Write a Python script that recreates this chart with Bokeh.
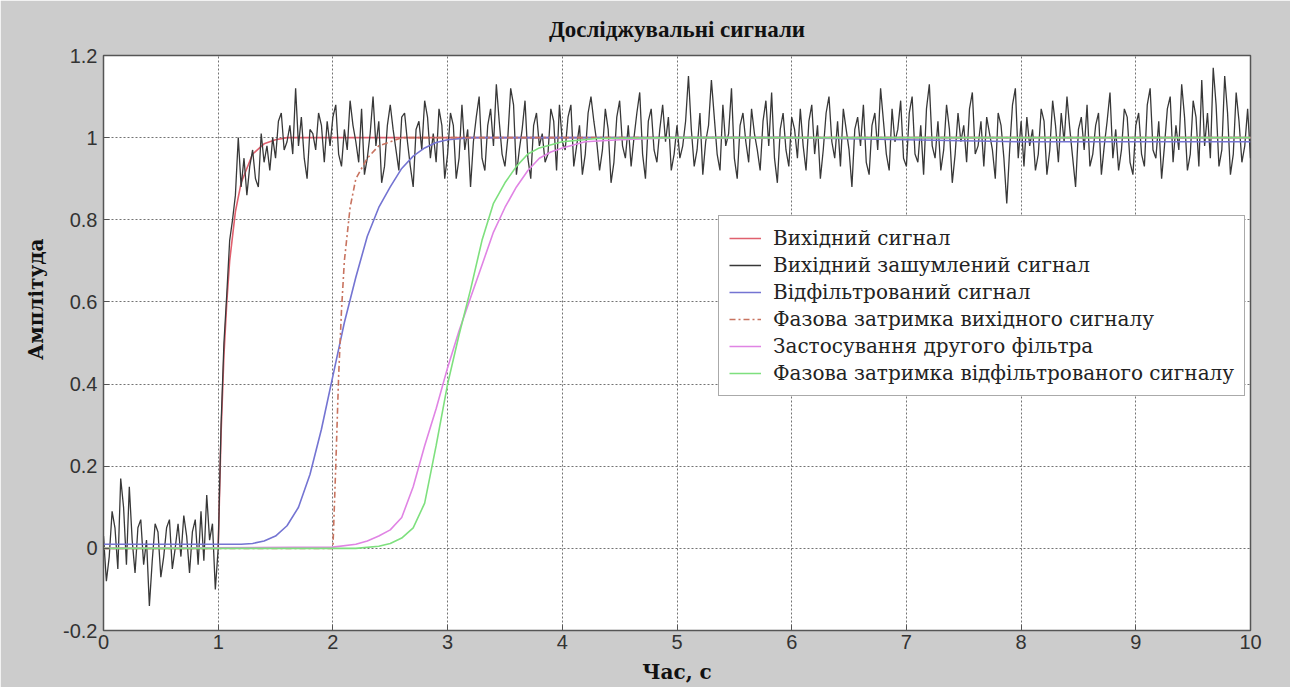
import numpy as np
from bokeh.plotting import figure
from bokeh.models import Range1d, FixedTicker, Legend, LegendItem, NumeralTickFormatter, Title
from bokeh.embed import file_html
from bokeh.resources import INLINE

# ---------------- data ----------------
title_text = "Досліджувальні сигнали"
x_label = "Час, с"
y_label = "Амплітуда"
series_names = [
    "Вихідний сигнал",
    "Вихідний зашумлений сигнал",
    "Відфільтрований сигнал",
    "Фазова затримка вихідного сигналу",
    "Застосування другого фільтра",
    "Фазова затримка відфільтрованого сигналу",
]
x_ticks = [0, 1, 2, 3, 4, 5, 6, 7, 8, 9, 10]
y_ticks = [-0.2, 0, 0.2, 0.4, 0.6, 0.8, 1.0, 1.2]

# input signal
t_in = [0, 1.0, 1.025, 1.05, 1.075, 1.1, 1.15, 1.2, 1.3, 1.4, 1.5, 1.6, 10]
v_in = [0, 0, 0.28, 0.47, 0.6, 0.7, 0.82, 0.89, 0.96, 0.985, 0.995, 1.0, 1.0]

# noisy input signal, sampled every 0.025 s from 0 to 10 s
v_noisy = [
    0.03, -0.08, -0.02, 0.09, 0.05, -0.05, 0.17, 0.1, -0.04, 0.15,
    0.02, -0.06, 0.05, 0.07, -0.04, 0.02, -0.14, -0.03, 0.06, 0.04,
    -0.07, -0.02, 0.05, 0.07, -0.05, 0.0, 0.06, -0.02, 0.08, 0.03,
    -0.06, 0.04, 0.07, -0.04, 0.09, -0.03, 0.13, 0.02, 0.06, -0.1,
    0.0, 0.3, 0.5, 0.62, 0.75, 0.8, 0.86, 1.0, 0.88, 0.95,
    0.86, 0.93, 0.97, 0.9, 0.88, 1.01, 0.94, 0.98, 0.92, 1.0,
    0.95, 1.04, 1.06, 0.97, 0.99, 1.03, 0.96, 1.12, 0.98, 1.05,
    0.95, 0.9, 1.02, 1.01, 0.97, 1.06, 1.03, 0.94, 1.04, 0.98,
    1.05, 1.08, 0.96, 0.93, 1.02, 0.97, 1.09, 1.03, 0.99, 0.94,
    1.07, 0.91, 0.95, 1.01, 1.1, 0.98, 1.04, 0.89, 0.93, 1.03,
    1.08, 1.02, 0.97, 0.92, 1.05, 1.06, 0.99, 0.93, 0.88, 1.02,
    1.04, 0.97, 1.09, 1.05, 0.95, 1.01, 0.94, 1.07, 1.03, 0.9,
    0.96, 1.06, 1.03, 0.9, 0.95, 1.08, 0.97, 1.02, 0.88, 0.99,
    1.05, 1.1, 0.95, 0.92, 1.03, 1.07, 0.98, 1.13, 1.04, 0.96,
    0.93, 1.0, 1.12, 1.08, 0.91, 0.97, 1.02, 1.09, 0.95, 0.9,
    1.03, 1.06, 0.98, 1.01, 0.94, 0.96, 1.07, 1.04, 0.92, 1.08,
    0.99, 0.97, 1.05, 1.08, 0.93, 0.98, 1.03, 0.91, 0.96, 1.06,
    1.1, 1.04, 0.99, 0.92, 0.97, 1.07, 1.02, 0.89, 0.94, 1.05,
    1.09, 0.98, 0.95, 1.03, 0.93, 1.0, 1.06, 1.11, 0.96, 0.9,
    1.04, 1.07, 0.97, 0.94, 1.02, 1.08, 0.99, 1.05, 0.92, 0.96,
    1.03, 0.95, 0.98, 1.04, 1.15, 1.02, 0.93, 0.97, 1.06, 0.91,
    0.99, 1.03, 1.14, 1.05, 0.96, 0.92, 1.08, 0.98, 1.01, 1.12,
    0.95, 0.9, 1.03, 1.06, 0.99, 0.94, 1.07, 1.01, 0.97, 0.92,
    1.04, 1.09, 0.98, 1.11, 0.95, 0.89, 1.02, 1.06, 0.97, 0.93,
    1.05, 1.02, 0.95, 1.07, 0.98, 0.92, 1.04, 1.08, 0.96, 1.03,
    0.9, 0.97, 1.06, 1.1, 0.99, 0.95, 1.04, 0.93, 1.07, 1.02,
    0.97, 0.88, 1.02, 1.05, 0.98, 1.08, 0.94, 0.91, 1.03, 1.06,
    0.97, 1.12, 1.04, 0.96, 0.92, 1.07, 0.99, 1.02, 1.09, 0.95,
    0.93, 1.06, 1.1, 0.96, 0.94, 1.03, 0.91, 1.07, 1.13, 0.98,
    0.95, 1.04, 0.92, 0.97, 1.08, 1.02, 0.89, 0.96, 1.06, 0.99,
    1.03, 0.94, 1.07, 1.11, 0.96, 0.98, 1.04, 0.93, 1.05, 1.01,
    0.97, 0.9, 1.06, 1.03, 0.95, 0.84, 0.97, 1.08, 1.12, 0.95,
    1.04, 0.93, 1.05, 0.98, 1.02, 0.92, 0.96, 1.07, 1.04, 0.91,
    0.97, 1.09, 1.03, 0.94, 1.06, 0.99, 1.1, 1.02, 0.95, 0.88,
    1.02, 1.05, 0.97, 1.08, 0.93, 0.96, 1.03, 1.06, 0.91, 0.98,
    1.04, 1.11, 0.95, 1.02, 0.92, 0.97, 1.07, 1.05, 0.94, 0.91,
    1.03, 1.06, 0.96, 0.93, 1.08, 1.12, 0.97, 0.95, 1.04, 0.9,
    0.98, 1.07, 1.1, 0.94, 1.03, 0.97, 1.13, 1.05, 0.92, 0.96,
    1.09, 1.05, 0.93, 1.14, 0.98, 1.06, 0.95, 1.17, 1.08, 0.93,
    0.97, 1.15, 1.06, 0.91, 0.96, 1.11, 1.04, 0.94, 0.98, 1.07,
    0.95,
]
t_noisy = np.linspace(0, 10, len(v_noisy))

# filtered signal
t_f = [0, 1.2, 1.3, 1.4, 1.5, 1.6, 1.7, 1.8, 1.9, 2.0, 2.1, 2.2, 2.3, 2.4, 2.5, 2.6, 2.7, 2.8, 2.9, 3.0, 3.2, 3.5, 4, 5, 6, 7, 8, 9, 10]
v_f = [0.01, 0.01, 0.012, 0.018, 0.03, 0.055, 0.1, 0.18, 0.29, 0.42, 0.55, 0.66, 0.76, 0.83, 0.88, 0.925, 0.955, 0.975, 0.988, 0.995, 1.0, 1.0, 1.0, 1.0, 1.0, 0.995, 0.99, 0.99, 0.99]

# phase-delayed input signal
t_dl = [0, 2.0, 2.025, 2.05, 2.075, 2.1, 2.15, 2.2, 2.3, 2.4, 2.5, 2.6, 10]
v_dl = [0, 0, 0.2, 0.42, 0.58, 0.7, 0.83, 0.9, 0.95, 0.98, 0.99, 1.0, 1.0]

# second filter
t_m = [0, 2.0, 2.2, 2.3, 2.4, 2.5, 2.6, 2.7, 2.8, 2.9, 3.0, 3.1, 3.2, 3.3, 3.4, 3.5, 3.6, 3.7, 3.8, 3.9, 4.0, 4.2, 4.5, 5, 10]
v_m = [0, 0.003, 0.01, 0.018, 0.03, 0.045, 0.075, 0.15, 0.25, 0.34, 0.44, 0.53, 0.61, 0.69, 0.77, 0.83, 0.88, 0.92, 0.95, 0.965, 0.975, 0.99, 0.995, 1.0, 1.0]

# phase-delayed filtered signal
t_g = [0, 2.2, 2.4, 2.5, 2.6, 2.7, 2.8, 2.9, 3.0, 3.1, 3.2, 3.3, 3.4, 3.5, 3.6, 3.7, 3.8, 4.0, 4.3, 5, 10]
v_g = [0, 0.0, 0.005, 0.012, 0.025, 0.05, 0.11, 0.25, 0.4, 0.52, 0.63, 0.75, 0.84, 0.89, 0.93, 0.96, 0.975, 0.99, 0.998, 1.0, 1.0]

colors = ["#e0606e", "#383838", "#7474d2", "#c8735f", "#e084e4", "#7ee07e"]

# ---------------- figure ----------------
SERIF = "DejaVu Serif"
p = figure(width=1290, height=687, output_backend="svg", toolbar_location=None,
           x_range=Range1d(0, 10), y_range=Range1d(-0.2, 1.2),
           min_border_left=103, min_border_right=40, min_border_top=55, min_border_bottom=57,
           background_fill_color="white", border_fill_color="#cccccc")

p.title.text = title_text
p.title.align = "center"
p.title.text_font = "Liberation Serif"
p.title.text_font_style = "bold"
p.title.text_font_size = "23px"
p.title.text_color = "#111111"
p.title.standoff = 28

r_in = p.line(t_in, v_in, line_color=colors[0], line_width=1.6)
r_no = p.line(t_noisy, v_noisy, line_color=colors[1], line_width=1.3)
r_f = p.line(t_f, v_f, line_color=colors[2], line_width=1.6)
r_dl = p.line(t_dl, v_dl, line_color=colors[3], line_width=1.6, line_dash="6 3 2 3")
r_m = p.line(t_m, v_m, line_color=colors[4], line_width=1.6)
r_g = p.line(t_g, v_g, line_color=colors[5], line_width=1.6)

# axes
for ax in (p.xaxis[0], p.yaxis[0]):
    ax.axis_line_color = "#555555"
    ax.major_tick_in = 6
    ax.major_tick_out = 0
    ax.minor_tick_line_color = None
    ax.major_tick_line_color = "#555555"
    ax.major_label_text_font = "Liberation Sans"
    ax.major_label_text_font_size = "20px"
    ax.major_label_text_color = "#333333"

p.xaxis.ticker = FixedTicker(ticks=x_ticks)
p.yaxis.ticker = FixedTicker(ticks=y_ticks)
p.yaxis.formatter = NumeralTickFormatter(format="0.[0]")
p.xaxis.major_label_standoff = 4
p.yaxis.major_label_standoff = 6

p.xaxis.axis_label = x_label
p.xaxis.axis_label_text_font = SERIF
p.xaxis.axis_label_text_font_style = "bold"
p.xaxis.axis_label_text_font_size = "20px"
p.xaxis.axis_label_text_color = "#111111"
p.xaxis.axis_label_standoff = 8

# y-axis title sits a little above the middle of the axis, as in the original
p.add_layout(Title(text=y_label, align="right", offset=183, standoff=26,
                   text_font=SERIF, text_font_style="bold", text_font_size="20px",
                   text_color="#111111"), "left")

for g in (p.xgrid[0], p.ygrid[0]):
    g.grid_line_color = "#444444"
    g.grid_line_alpha = 0.75
    g.grid_line_dash = "2 2"
    g.grid_line_width = 1

p.outline_line_color = "#555555"
p.outline_line_width = 1.5

legend = Legend(items=[
    LegendItem(label=series_names[0], renderers=[r_in]),
    LegendItem(label=series_names[1], renderers=[r_no]),
    LegendItem(label=series_names[2], renderers=[r_f]),
    LegendItem(label=series_names[3], renderers=[r_dl]),
    LegendItem(label=series_names[4], renderers=[r_m]),
    LegendItem(label=series_names[5], renderers=[r_g]),
], location=(615, 234))
legend.label_text_font = SERIF
legend.label_text_font_size = "20px"
legend.label_text_color = "#222222"
legend.border_line_color = "#555555"
legend.border_line_width = 1
legend.background_fill_color = "white"
legend.background_fill_alpha = 1
legend.padding = 10
legend.spacing = 3
legend.label_height = 24
legend.glyph_height = 24
legend.glyph_width = 32
legend.label_standoff = 12
legend.margin = 0
p.add_layout(legend, "center")

open("out.html", "w").write(file_html(p, INLINE))
